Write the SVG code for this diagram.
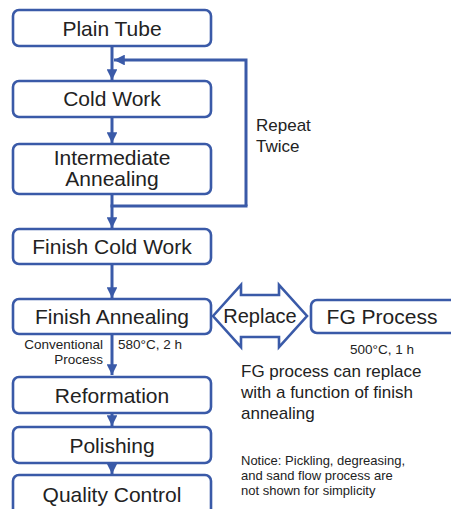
<svg xmlns="http://www.w3.org/2000/svg" width="451" height="509" viewBox="0 0 451 509">
  <style>
    .box { fill: #ffffff; stroke: #3a5aa8; stroke-width: 2.6; }
    .lbl { font-family: "Liberation Sans", Arial, sans-serif; font-size: 21px; fill: #222222; text-anchor: middle; }
    .txt { font-family: "Liberation Sans", Arial, sans-serif; fill: #222222; }
    .line { fill: none; stroke: #3a5aa8; stroke-width: 3; }
  </style>
  <defs>
    <marker id="head" viewBox="0 0 10 10" refX="10" refY="5" markerWidth="3.6" markerHeight="3.6" orient="auto" markerUnits="strokeWidth">
      <path d="M0,0 L10,5 L0,10 z" fill="#3a5aa8"/>
    </marker>
  </defs>
  <rect width="451" height="509" fill="#ffffff"/>

  <g id="connectors">
    <line class="line" x1="112" y1="46" x2="112" y2="80" marker-end="url(#head)"/>
    <polyline class="line" points="246,206 246,60 114,60" marker-end="url(#head)"/>
    <line class="line" x1="112" y1="117" x2="112" y2="143" marker-end="url(#head)"/>
    <line class="line" x1="112" y1="194" x2="112" y2="228" marker-end="url(#head)"/>
    <line class="line" x1="110.5" y1="206" x2="247.5" y2="206"/>
    <line class="line" x1="112" y1="264" x2="112" y2="298" marker-end="url(#head)"/>
    <line class="line" x1="112" y1="334" x2="112" y2="375" marker-end="url(#head)"/>
    <line class="line" x1="112" y1="413" x2="112" y2="426" marker-end="url(#head)"/>
    <line class="line" x1="112" y1="463" x2="112" y2="474" marker-end="url(#head)"/>
  </g>

  <g id="plain-tube">
    <rect class="box" x="13" y="10" width="198" height="36" rx="6"/>
    <text class="lbl" x="112" y="36">Plain Tube</text>
  </g>
  <g id="cold-work">
    <rect class="box" x="13" y="81" width="198" height="36" rx="6"/>
    <text class="lbl" x="112" y="106">Cold Work</text>
  </g>
  <g id="intermediate-annealing">
    <rect class="box" x="13" y="144" width="198" height="50" rx="6"/>
    <text class="lbl" x="112" y="165" font-size="20.5">Intermediate</text>
    <text class="lbl" x="112" y="186" font-size="20.5">Annealing</text>
  </g>
  <g id="repeat-label">
    <text class="txt" x="256" y="131" font-size="17">Repeat</text>
    <text class="txt" x="256" y="152" font-size="17">Twice</text>
  </g>
  <g id="finish-cold-work">
    <rect class="box" x="13" y="229" width="198" height="35" rx="6"/>
    <text class="lbl" x="112" y="254">Finish Cold Work</text>
  </g>
  <g id="finish-annealing">
    <rect class="box" x="13" y="299" width="198" height="35" rx="6"/>
    <text class="lbl" x="112" y="324">Finish Annealing</text>
  </g>
  <g id="replace">
    <polygon points="213,316 241,285 241,295 279,295 279,285 307,316 279,347 279,337 241,337 241,347" fill="#ffffff" stroke="#3a5aa8" stroke-width="2.6" stroke-linejoin="miter"/>
    <text class="txt" x="260" y="323" font-size="20" text-anchor="middle">Replace</text>
  </g>
  <g id="fg-process">
    <rect class="box" x="311" y="300" width="150" height="33" rx="6"/>
    <text class="lbl" x="382" y="324">FG Process</text>
    <text class="txt" x="382" y="354" font-size="13.5" text-anchor="middle">500°C, 1 h</text>
  </g>
  <g id="conventional-label">
    <text class="txt" x="103" y="349" font-size="13.5" text-anchor="end">Conventional</text>
    <text class="txt" x="103" y="364" font-size="13.5" text-anchor="end">Process</text>
    <text class="txt" x="118" y="349" font-size="13.5">580°C, 2 h</text>
  </g>
  <g id="reformation">
    <rect class="box" x="13" y="377" width="198" height="36" rx="6"/>
    <text class="lbl" x="112" y="403">Reformation</text>
  </g>
  <g id="polishing">
    <rect class="box" x="13" y="427" width="198" height="36" rx="6"/>
    <text class="lbl" x="112" y="453">Polishing</text>
  </g>
  <g id="quality-control">
    <rect class="box" x="13" y="475" width="198" height="40" rx="6"/>
    <text class="lbl" x="112" y="502">Quality Control</text>
  </g>
  <g id="notes">
    <text class="txt" x="241" y="377" font-size="17">FG process can replace</text>
    <text class="txt" x="241" y="398" font-size="17">with a function of finish</text>
    <text class="txt" x="241" y="419" font-size="17">annealing</text>
    <text class="txt" x="241" y="465" font-size="13">Notice: Pickling, degreasing,</text>
    <text class="txt" x="241" y="480" font-size="13">and sand flow process are</text>
    <text class="txt" x="241" y="495" font-size="13">not shown for simplicity</text>
  </g>
</svg>
